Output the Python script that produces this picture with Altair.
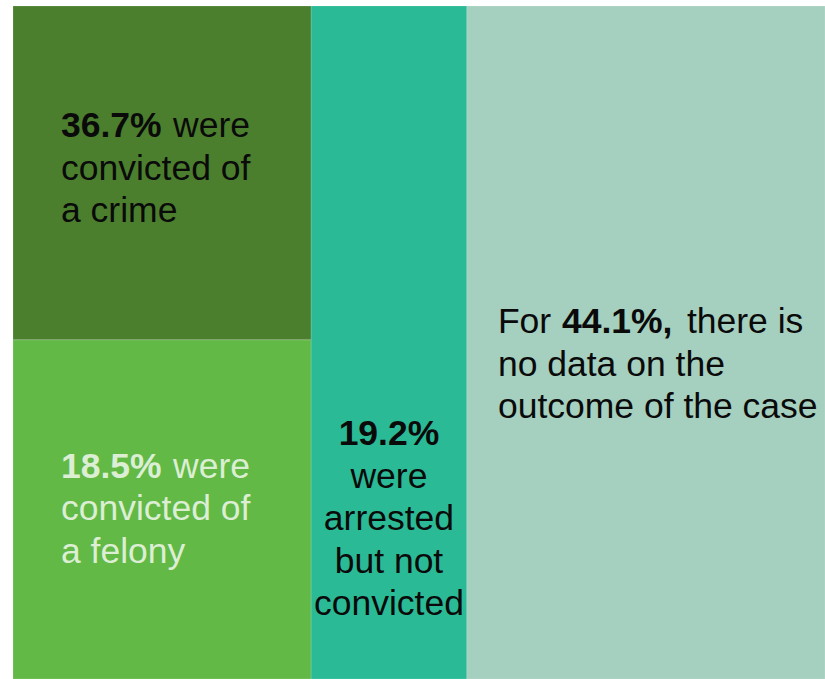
import altair as alt
import pandas as pd

# ---- data ----
pieces = ["Convicted of a crime", "Convicted of a felony", "Arrested but not convicted", "No data on outcome"]
piece_column = ["convicted", "convicted", "arrested", "nodata"]
piece_share = [18.2, 18.5, 19.2, 44.1]
piece_colors = ["#4B7F2E", "#62B946", "#2ABA96", "#A5CFBF"]

columns = ["convicted", "arrested", "nodata"]

# label pieces: block, line, text, bold
label_block = ["convicted_top", "convicted_top", "convicted_top", "convicted_top",
               "felony", "felony", "felony", "felony",
               "arrested", "arrested", "arrested", "arrested", "arrested",
               "nodata", "nodata", "nodata", "nodata", "nodata"]
label_line = [0, 0, 1, 2,
              0, 0, 1, 2,
              0, 1, 2, 3, 4,
              0, 0, 0, 1, 2]
label_text = ["36.7%", "were", "convicted of", "a crime",
              "18.5%", "were", "convicted of", "a felony",
              "19.2%", "were", "arrested", "but not", "convicted",
              "For", "44.1%,", "there is", "no data on the", "outcome of the case"]
label_bold = [True, False, False, False,
              True, False, False, False,
              True, False, False, False, False,
              False, True, False, False, False]

# ---- mosaic geometry from the shares ----
df = pd.DataFrame({"piece": pieces, "column": piece_column, "share": piece_share})
col_tot = df.groupby("column", sort=False)["share"].sum().reindex(columns)
x0 = col_tot.cumsum() - col_tot
x1 = col_tot.cumsum()
df["x0"] = df["column"].map(x0)
df["x1"] = df["column"].map(x1)
df["frac"] = df["share"] / df["column"].map(col_tot)
# stack within column: felony at bottom, crime on top
order = {"Convicted of a felony": 0, "Convicted of a crime": 1,
         "Arrested but not convicted": 0, "No data on outcome": 0}
df["ord"] = df["piece"].map(order)
df = df.sort_values(["column", "ord"])
df["y1"] = df.groupby("column")["frac"].cumsum()
df["y0"] = df["y1"] - df["frac"]

W, H = 812, 673

rects = alt.Chart(df).mark_rect(stroke="#ffffff", strokeWidth=0.8, strokeOpacity=0.2).encode(
    x=alt.X("x0:Q", axis=None, scale=alt.Scale(domain=[0, 100], nice=False, zero=True)),
    x2="x1:Q",
    y=alt.Y("y0:Q", axis=None, scale=alt.Scale(domain=[0, 1], nice=False)),
    y2="y1:Q",
    color=alt.Color("piece:N", scale=alt.Scale(domain=pieces, range=piece_colors), legend=None),
)

# anchors for each label block (from the mosaic geometry)
geo = df.set_index("piece")
block_anchor = {
    "convicted_top": (geo.loc["Convicted of a crime", "x0"], geo.loc["Convicted of a crime", "y1"]),
    "felony": (geo.loc["Convicted of a felony", "x0"], geo.loc["Convicted of a felony", "y1"]),
    "arrested": ((geo.loc["Arrested but not convicted", "x0"] + geo.loc["Arrested but not convicted", "x1"]) / 2,
                 geo.loc["Arrested but not convicted", "y1"]),
    "nodata": (geo.loc["No data on outcome", "x0"], geo.loc["No data on outcome", "y1"]),
}

# style: inset / first baseline offsets (px), inline offsets, colours
block_style = {
    "convicted_top": dict(dx=48, dy=131, align="left", color="#0a0a0a"),
    "felony": dict(dx=48, dy=138, align="left", color="#DCEED3"),
    "arrested": dict(dx=0, dy=439, align="center", color="#0a0a0a"),
    "nodata": dict(dx=31, dy=327, align="left", color="#0a0a0a"),
}
inline_dx = {("convicted_top", 1): 112, ("felony", 1): 112, ("nodata", 1): 64, ("nodata", 2): 189}
LINE_H = 42.5
FONT_SIZE = 35.5

labels = pd.DataFrame({"block": label_block, "line": label_line, "text": label_text, "bold": label_bold})
labels["ax"] = labels["block"].map(lambda b: block_anchor[b][0])
labels["ay"] = labels["block"].map(lambda b: block_anchor[b][1])
labels["idx"] = range(len(labels))
labels["pos"] = labels.groupby(["block", "line"]).cumcount()

layers = [rects]
for _, r in labels.iterrows():
    st = block_style[r["block"]]
    layers.append(
        alt.Chart(labels).transform_filter(alt.datum.idx == int(r["idx"])).mark_text(
            align=st["align"], baseline="alphabetic",
            dx=st["dx"] + inline_dx.get((r["block"], int(r["pos"])), 0),
            dy=st["dy"] + LINE_H * int(r["line"]),
            font="Liberation Sans", fontSize=FONT_SIZE,
            fontWeight="bold" if r["bold"] else "normal",
            color=st["color"],
        ).encode(x="ax:Q", y="ay:Q", text="text:N")
    )

chart = alt.layer(*layers).properties(
    width=W, height=H,
    autosize=alt.AutoSizeParams(type="none"),
    padding={"left": 13, "top": 6, "right": 0, "bottom": 0},
).configure_view(stroke=None).configure(background="#ffffff")

chart.save("out.html", embed_options={"renderer": "svg", "actions": False})
